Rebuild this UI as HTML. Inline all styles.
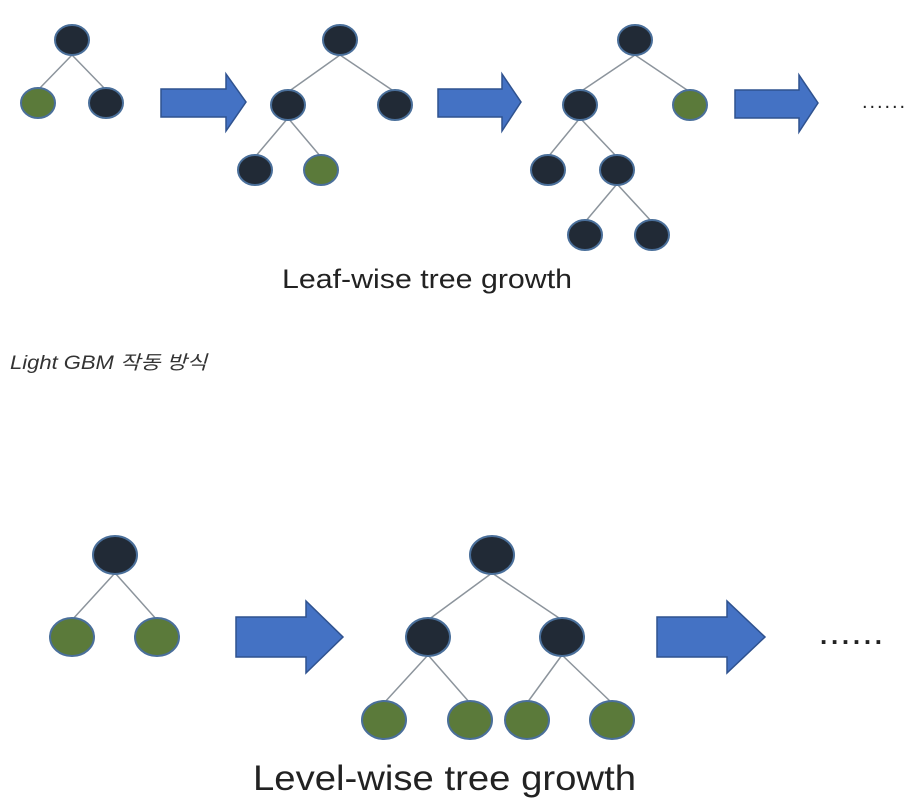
<!DOCTYPE html>
<html><head><meta charset="utf-8"><style>
body{margin:0;background:#fff;width:918px;height:806px;overflow:hidden}
svg{display:block}
</style></head><body>
<svg width="918" height="806" viewBox="0 0 918 806" xmlns="http://www.w3.org/2000/svg">
<g stroke="#8c949c" stroke-width="1.5">
<line x1="72" y1="55" x2="38" y2="90"/><line x1="72" y1="55" x2="106" y2="90"/>
<line x1="340" y1="55" x2="288" y2="92"/><line x1="340" y1="55" x2="395" y2="92"/>
<line x1="288" y1="118" x2="255" y2="157"/><line x1="288" y1="118" x2="321" y2="157"/>
<line x1="635" y1="55" x2="580" y2="92"/><line x1="635" y1="55" x2="690" y2="92"/>
<line x1="580" y1="118" x2="548" y2="157"/><line x1="580" y1="118" x2="617" y2="157"/>
<line x1="617" y1="184" x2="585" y2="222"/><line x1="617" y1="184" x2="652" y2="222"/>
<line x1="115" y1="573" x2="72" y2="620"/><line x1="115" y1="573" x2="157" y2="620"/>
<line x1="492" y1="573" x2="428" y2="620"/><line x1="492" y1="573" x2="562" y2="620"/>
<line x1="428" y1="655" x2="384" y2="703"/><line x1="428" y1="655" x2="470" y2="703"/>
<line x1="562" y1="655" x2="527" y2="703"/><line x1="562" y1="655" x2="612" y2="703"/>
</g>
<g stroke="#4a6f9a" stroke-width="2">
<g fill="#212a36">
<ellipse cx="72" cy="40" rx="17" ry="15"/><ellipse cx="106" cy="103" rx="17" ry="15"/>
<ellipse cx="340" cy="40" rx="17" ry="15"/><ellipse cx="288" cy="105" rx="17" ry="15"/><ellipse cx="395" cy="105" rx="17" ry="15"/><ellipse cx="255" cy="170" rx="17" ry="15"/>
<ellipse cx="635" cy="40" rx="17" ry="15"/><ellipse cx="580" cy="105" rx="17" ry="15"/><ellipse cx="548" cy="170" rx="17" ry="15"/><ellipse cx="617" cy="170" rx="17" ry="15"/><ellipse cx="585" cy="235" rx="17" ry="15"/><ellipse cx="652" cy="235" rx="17" ry="15"/>
<ellipse cx="115" cy="555" rx="22" ry="19"/><ellipse cx="492" cy="555" rx="22" ry="19"/><ellipse cx="428" cy="637" rx="22" ry="19"/><ellipse cx="562" cy="637" rx="22" ry="19"/>
</g>
<g fill="#5b7a3a">
<ellipse cx="38" cy="103" rx="17" ry="15"/><ellipse cx="321" cy="170" rx="17" ry="15"/><ellipse cx="690" cy="105" rx="17" ry="15"/>
<ellipse cx="72" cy="637" rx="22" ry="19"/><ellipse cx="157" cy="637" rx="22" ry="19"/>
<ellipse cx="384" cy="720" rx="22" ry="19"/><ellipse cx="470" cy="720" rx="22" ry="19"/><ellipse cx="527" cy="720" rx="22" ry="19"/><ellipse cx="612" cy="720" rx="22" ry="19"/>
</g>
</g>
<g fill="#4472c4" stroke="#2f528f" stroke-width="1.5">
<polygon points="161,89 226,89 226,74 246,102 226,131 226,117 161,117"/>
<polygon points="438,89 502,89 502,74 521,102 502,131 502,117 438,117"/>
<polygon points="735,90 799,90 799,75 818,103 799,132 799,118 735,118"/>
<polygon points="236,617 306,617 306,601 343,637 306,673 306,657 236,657"/>
<polygon points="657,617 727,617 727,601 765,637 727,673 727,657 657,657"/>
</g>
<g font-family="Liberation Sans, sans-serif" fill="#222">
<text x="862" y="108" font-size="20" textLength="43" lengthAdjust="spacing">......</text>
<text x="820" y="644" font-size="26" font-weight="bold" textLength="62" lengthAdjust="spacing">......</text>
<text x="282" y="288" font-size="27" textLength="290" lengthAdjust="spacingAndGlyphs">Leaf-wise tree growth</text>
<text x="253" y="790" font-size="35" textLength="383" lengthAdjust="spacingAndGlyphs">Level-wise tree growth</text>
</g>
<text x="10" y="369" font-size="19" font-style="italic" fill="#333" textLength="197" lengthAdjust="spacingAndGlyphs" font-family="Liberation Sans, 'Noto Sans CJK KR', sans-serif">Light GBM 작동 방식</text>
</svg>
</body></html>
